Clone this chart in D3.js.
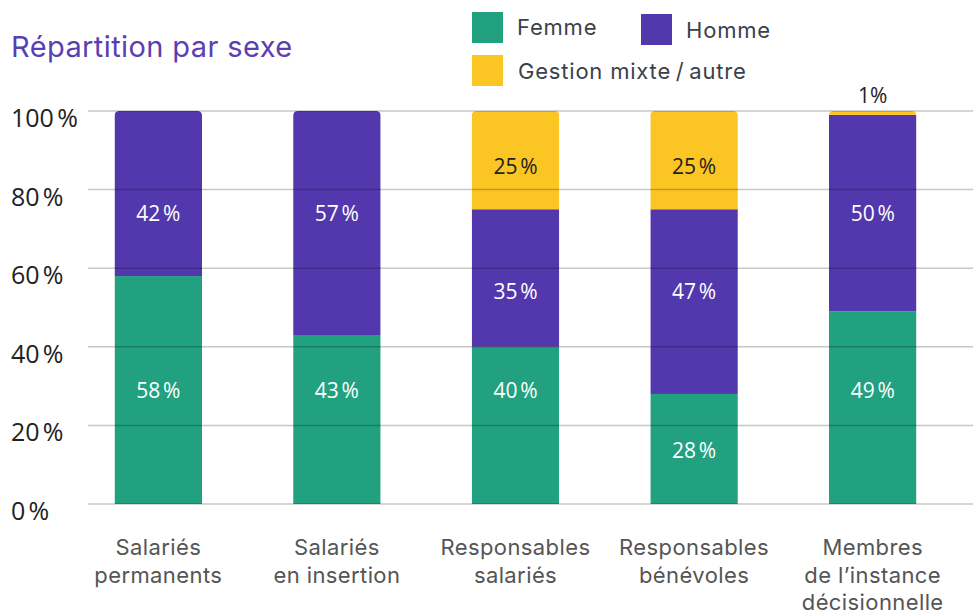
<!DOCTYPE html>
<html>
<head>
<meta charset="utf-8">
<script src="https://cdn.jsdelivr.net/npm/d3@7"></script>
<style>
  body { margin: 0; background: #fff; }
  svg { display: block; }
</style>
</head>
<body>
<svg id="chart" width="973" height="613"></svg>
<script>
// data
var categories = [
    ["Salariés", "permanents"],
    ["Salariés", "en insertion"],
    ["Responsables", "salariés"],
    ["Responsables", "bénévoles"],
    ["Membres", "de l\u2019instance", "décisionnelle"]
];
var femme = [58, 43, 40, 28, 49];
var homme = [42, 57, 35, 47, 50];
var mixte = [0, 0, 25, 25, 1];
var seriesNames = ["Femme", "Homme", "Gestion mixte\u2009/\u2009autre"];
var yTicks = [0, 20, 40, 60, 80, 100];

// where the value labels sit, in %
var labelLevel = [
    [29, 29, 29, 13.7, 29],
    [74, 74, 54, 54, 74],
    [null, null, 86, 86, 104]
];

var colors = ["#21a17f", "#5238ac", "#fbc524"];
var labelColors = ["#fff", "#fff", "#222"];

var svg = d3.select("#chart");

var x = d3.scaleBand()
    .domain(d3.range(categories.length))
    .range([69, 962])
    .paddingInner(0.51)
    .paddingOuter(0.255);

var y = d3.scaleLinear().domain([0, 100]).range([504, 111]);

// stacked rows
var rows = categories.map(function (c, i) {
    return { i: i, Femme: femme[i], Homme: homme[i], Mixte: mixte[i] };
});
var keys = ["Femme", "Homme", "Mixte"];
var stack = d3.stack().keys(keys)(rows);

// title
svg.append("text")
    .attr("x", 11).attr("y", 57)
    .attr("font-family", "Inter, sans-serif")
    .attr("font-size", 29)
    .attr("letter-spacing", 0.4)
    .attr("fill", "#5a3fb4")
    .text("Répartition par sexe");

// legend
var legendItems = [
    { x: 472, y: 12, tx: 517, ty: 35, i: 0 },
    { x: 641, y: 14, tx: 686, ty: 38, i: 1 },
    { x: 472, y: 55, tx: 518, ty: 79, i: 2 }
];
var legend = svg.append("g").selectAll("g")
    .data(legendItems)
    .enter().append("g");
legend.append("rect")
    .attr("x", d => d.x).attr("y", d => d.y)
    .attr("width", 31).attr("height", 31)
    .attr("fill", d => colors[d.i]);
legend.append("text")
    .attr("x", d => d.tx).attr("y", d => d.ty)
    .attr("font-family", "Inter, sans-serif")
    .attr("font-size", 22)
    .attr("letter-spacing", 0.8)
    .attr("fill", "#3a414c")
    .text(d => seriesNames[d.i]);

// bars, clipped with rounded top
var defs = svg.append("defs");
var r = 5;
rows.forEach(function (d) {
    var x0 = x(d.i), w = x.bandwidth(), top = y(d.Femme + d.Homme + d.Mixte), bot = y(0);
    defs.append("clipPath").attr("id", "clip" + d.i)
        .append("path")
        .attr("d", "M" + x0 + "," + bot +
            "V" + (top + r) +
            "Q" + x0 + "," + top + " " + (x0 + r) + "," + top +
            "H" + (x0 + w - r) +
            "Q" + (x0 + w) + "," + top + " " + (x0 + w) + "," + (top + r) +
            "V" + bot + "Z");
});

var layers = svg.append("g").selectAll("g.layer")
    .data(stack)
    .enter().append("g")
    .attr("class", "layer")
    .attr("fill", (d, k) => colors[k]);

layers.selectAll("rect")
    .data(d => d)
    .enter().append("rect")
    .attr("clip-path", d => "url(#clip" + d.data.i + ")")
    .attr("x", d => x(d.data.i))
    .attr("y", d => y(d[1]))
    .attr("width", x.bandwidth())
    .attr("height", d => Math.max(0, y(d[0]) - y(d[1])));

// gridlines on top of the bars
svg.append("g").selectAll("line")
    .data(yTicks)
    .enter().append("line")
    .attr("x1", 88).attr("x2", 973)
    .attr("y1", d => y(d)).attr("y2", d => y(d))
    .attr("stroke", "rgba(0,0,0,0.22)")
    .attr("stroke-width", 1.5);

// y tick labels
svg.append("g").selectAll("text")
    .data(yTicks)
    .enter().append("text")
    .attr("x", 11)
    .attr("y", d => y(d) + 16)
    .attr("font-family", "'Open Sans', sans-serif")
    .attr("font-size", 25)
    .attr("fill", "#222")
    .text(d => d + "\u202F%");

// value labels
var valueLabels = [];
[femme, homme, mixte].forEach(function (vals, k) {
    vals.forEach(function (v, i) {
        if (v > 0) valueLabels.push({ k: k, i: i, v: v, at: labelLevel[k][i] });
    });
});
svg.append("g").selectAll("text")
    .data(valueLabels)
    .enter().append("text")
    .attr("x", d => x(d.i) + x.bandwidth() / 2)
    .attr("y", d => y(d.at))
    .attr("dy", "0.36em")
    .attr("text-anchor", "middle")
    .attr("font-family", "'Open Sans', sans-serif")
    .attr("font-size", 21)
    .attr("font-weight", d => d.v < 5 ? 400 : 500)
    .attr("fill", d => d.v < 5 ? "#222" : labelColors[d.k])
    .text(d => d.v < 5 ? d.v + "%" : d.v + "\u202F%");

// category labels
var cat = svg.append("g").selectAll("text")
    .data(categories)
    .enter().append("text")
    .attr("x", (d, i) => x(i) + x.bandwidth() / 2)
    .attr("y", 555)
    .attr("text-anchor", "middle")
    .attr("font-family", "Inter, sans-serif")
    .attr("font-size", 22)
    .attr("letter-spacing", 0.4)
    .attr("fill", "#555");
cat.selectAll("tspan")
    .data(d => d)
    .enter().append("tspan")
    .attr("x", function () { return this.parentNode.getAttribute("x"); })
    .attr("dy", (d, j) => j === 0 ? 0 : 27.5)
    .text(d => d);
</script>
</body>
</html>
